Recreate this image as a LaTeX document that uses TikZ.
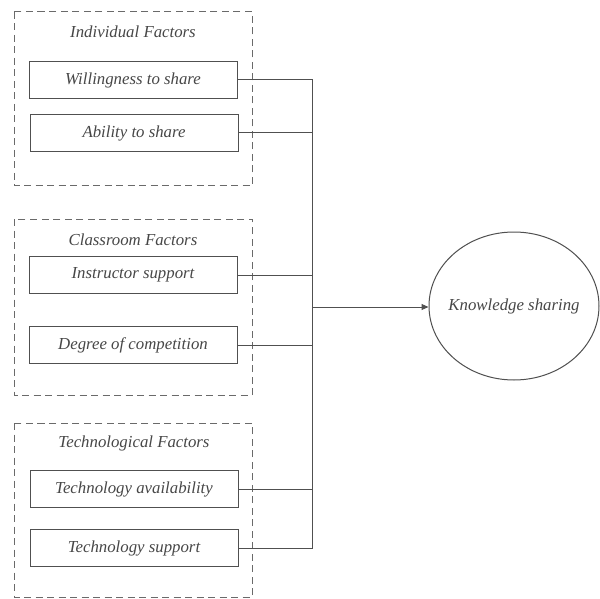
\documentclass[tikz,border=0pt]{standalone}
\usepackage{fontspec}
\setmainfont{Liberation Serif}
\usetikzlibrary{arrows.meta,shapes.geometric}
\definecolor{ink}{HTML}{505050}
\definecolor{txt}{HTML}{474747}
\tikzset{
  px/.style={x=1pt,y=-1pt},
  groupbox/.style={draw=ink!85, dashed, dash pattern=on 7pt off 4.5pt, line width=1pt},
  labelfont/.style={font=\fontsize{16.8}{20}\selectfont\itshape, text=txt},
  factor/.style={draw=ink, line width=1pt, minimum width=208pt, minimum height=37pt,
                 inner sep=0pt, labelfont},
  grouptitle/.style={labelfont, inner sep=0pt},
  link/.style={draw=ink, line width=1pt},
}
\begin{document}
\begin{tikzpicture}[px]
\useasboundingbox (0,0) rectangle (600,599);
\fill[white] (0,0) rectangle (600,599);

% group frames
\draw[groupbox] (14,12) rectangle (252,186);
\draw[groupbox] (14,219) rectangle (252,395);
\draw[groupbox] (14,423) rectangle (252,597);

% group titles
\node[grouptitle] (t1) at (133,32) {Individual Factors};
\node[grouptitle] (t2) at (133,240) {Classroom Factors};
\node[grouptitle] (t3) at (134,443) {Technological Factors};

% factor boxes
\node[factor] (f1) at (133,80) {Willingness to share};
\node[factor] (f2) at (134,133) {Ability to share};
\node[factor] (f3) at (133,275) {Instructor support};
\node[factor] (f4) at (133,345) {Degree of competition};
\node[factor] (f5) at (134,489) {Technology availability};
\node[factor] (f6) at (134,548) {Technology support};

% outcome (negative x padding keeps the ellipse at its fixed size)
\node[ellipse, draw=ink, line width=1pt, minimum width=170pt, minimum height=148pt,
      inner xsep=-30pt, inner ysep=0pt, labelfont] (ks) at (514,306) {Knowledge sharing};

% collector bus
\coordinate (bt) at (312,80);
\coordinate (bb) at (312,548);
\coordinate (bm) at (312,307);
\draw[link] (f1.east) -- (bt) -- (bb) -- (f6.east);
\draw[link] (f2.east) -- (f2.east -| bt);
\draw[link] (f3.east) -- (f3.east -| bt);
\draw[link] (f4.east) -- (f4.east -| bt);
\draw[link] (f5.east) -- (f5.east -| bt);
\draw[link, -{Triangle[length=7pt,width=6pt]}] (bm) -- (bm -| ks.west);
\end{tikzpicture}
\end{document}
